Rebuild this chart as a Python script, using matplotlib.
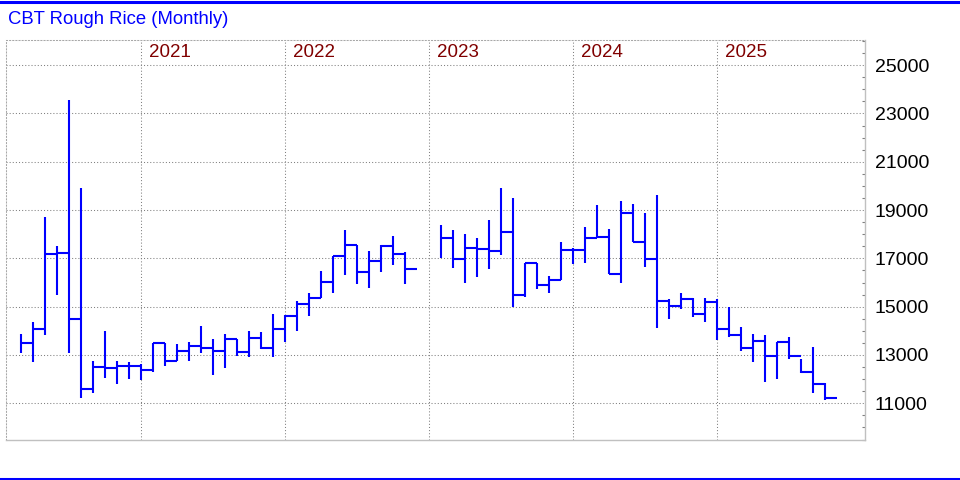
#!/usr/bin/env python3
"""
CBT Rough Rice monthly bar chart (high-low with close tick)
"""

import numpy as np
import pandas as pd
import matplotlib
matplotlib.use('Agg')
import matplotlib.pyplot as plt
from matplotlib.lines import Line2D
from matplotlib.ticker import MultipleLocator

# monthly data, Mar 2020 .. Oct 2025 (Dec 2022 / Jan 2023 missing)
months = pd.date_range('2020-03-01', '2025-10-01', freq='MS')

highs = [
    13870, 14350, 18710, 17510, 23560, 19900, 12750, 13990, 12750, 12700,
    12620, 13480, 13480, 13450, 13540, 14200, 13650, 13870, 13680, 13990, 13950, 14700,
    14660, 15230, 15560, 16480, 17100, 18180, 17570, 17310, 17550, 17930, 17270, np.nan,
    np.nan, 18380, 18180, 18000, 17830, 18590, 19900, 19490, 16800, 16820, 16270, 17680,
    17420, 18290, 19210, 18200, 19380, 19250, 18880, 19630, 15320, 15560, 15350, 15350,
    15310, 14980, 14150, 13870, 13830, 13530, 13760, 12830, 13320, 11850,
]
lows = [
    13070, 12720, 13820, 15500, 13070, 11210, 11440, 12040, 11800, 12010,
    11970, 12310, 12560, 12760, 12760, 13100, 12180, 12470, 12970, 12930, 13240, 12930,
    13550, 14000, 14630, 15370, 15580, 16330, 15950, 15790, 16450, 16740, 15950, np.nan,
    np.nan, 17000, 16620, 15970, 16240, 16570, 17130, 14980, 15390, 15720, 15580, 16110,
    16780, 16820, 17870, 16350, 15990, 17680, 16660, 14130, 14480, 14890, 14560, 14350,
    13600, 13730, 13150, 12720, 11890, 11990, 12850, 12240, 11410, 11140,
]
closes = [
    13510, 14060, 17170, 17240, 14500, 11590, 12520, 12470, 12550, 12550,
    12390, 13480, 12760, 13180, 13390, 13300, 13180, 13680, 13140, 13720, 13290, 14060,
    14630, 15090, 15370, 16040, 17100, 17570, 16450, 16900, 17530, 17200, 16570, np.nan,
    np.nan, 17860, 16990, 17440, 17400, 17320, 18080, 15500, 16820, 15910, 16120, 17360,
    17330, 17860, 17900, 16350, 18890, 17690, 16990, 15250, 15040, 15310, 14710, 15210,
    14060, 13840, 13300, 13590, 12960, 13530, 12960, 12310, 11810, 11210,
]

year_labels = ['2021', '2022', '2023', '2024', '2025']
y_ticks = [11000, 13000, 15000, 17000, 19000, 21000, 23000, 25000]

BAR_COLOR = '#0000ff'
GRID_COLOR = '#808080'
FONT = ['Liberation Sans', 'DejaVu Sans']


def plot_chart():
    plt.rcParams['font.family'] = FONT

    df = pd.DataFrame({'high': highs, 'low': lows, 'close': closes}, index=months)
    # month index with Jan 2021 = 0
    df['x'] = (df.index.year - 2021) * 12 + (df.index.month - 1)
    df = df.dropna()

    fig = plt.figure(figsize=(9.6, 4.8), dpi=100)
    ax = fig.add_axes([5.5 / 960, 40 / 480, (865 - 5.5) / 960, 400 / 480])

    # high-low lines and close ticks reaching to the next month
    ax.vlines(df['x'], df['low'], df['high'], color=BAR_COLOR, linewidth=1.5)
    ax.hlines(df['close'], df['x'], df['x'] + 1, color=BAR_COLOR, linewidth=1.5)

    ax.set_xlim(-11.29, 60.33)
    ax.set_ylim(9480, 26040)

    # axis, ticks, grid
    year_pos = [(int(y) - 2021) * 12 for y in year_labels]
    ax.set_xticks(year_pos)
    ax.set_xticklabels([])
    ax.tick_params(axis='x', length=0)
    ax.yaxis.tick_right()
    ax.set_yticks(y_ticks)
    ax.set_yticklabels([str(v) for v in y_ticks])
    ax.yaxis.set_minor_locator(MultipleLocator(500))
    ax.tick_params(axis='y', which='major', length=0, pad=7, labelsize=14, labelcolor='black')
    ax.tick_params(axis='y', which='minor', direction='in', length=2.5, width=0.8, color=GRID_COLOR)
    ax.grid(True, color=GRID_COLOR, linestyle=(0, (1, 2)), linewidth=0.75)
    ax.set_axisbelow(True)

    for side in ['right', 'bottom']:
        ax.spines[side].set_color('#c0c0c0')
        ax.spines[side].set_linewidth(1)
    for side in ['top', 'left']:
        ax.spines[side].set_color('#a8a8a8')
        ax.spines[side].set_linestyle((0, (1, 2)))
        ax.spines[side].set_linewidth(0.75)

    # year labels at the top of the plot
    for pos, label in zip(year_pos, year_labels):
        ax.text(pos + 0.7, 0.968, label, transform=ax.get_xaxis_transform(),
                ha='left', va='center', fontsize=13.5, color='#800000')

    fig.text(8 / 960, 1 - 20 / 480, 'CBT Rough Rice (Monthly)', ha='left', va='center',
             fontsize=13.3, color='#0000ff')

    # blue frame lines top and bottom
    fig.add_artist(Line2D([0, 1], [1 - 1.5 / 480, 1 - 1.5 / 480], color='#0000ff',
                          linewidth=2.2, transform=fig.transFigure))
    fig.add_artist(Line2D([0, 1], [1.5 / 480, 1.5 / 480], color='#0000ff',
                          linewidth=2.2, transform=fig.transFigure))

    fig.savefig('out.png', dpi=100)


def main():
    plot_chart()


if __name__ == '__main__':
    main()
